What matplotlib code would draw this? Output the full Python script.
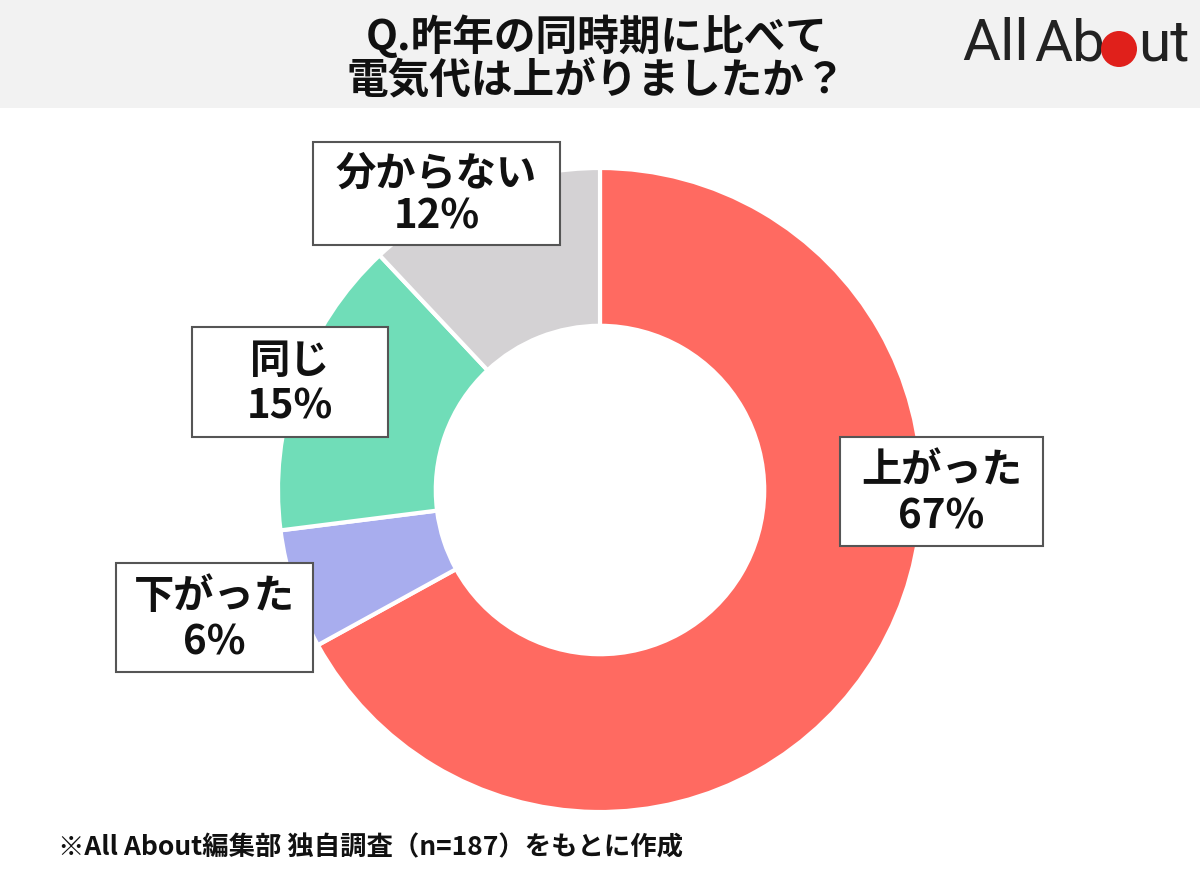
import matplotlib
matplotlib.use("Agg")
import matplotlib.pyplot as plt
from matplotlib.patches import Rectangle, Circle

plt.rcParams['font.family'] = ['Noto Sans CJK JP', 'DejaVu Sans']

title_lines = ["Q.昨年の同時期に比べて", "電気代は上がりましたか？"]
categories = ["上がった", "下がった", "同じ", "分からない"]
values = [67, 6, 15, 12]
colors = ["#FF6A61", "#A8ADEE", "#70DDB8", "#D4D2D4"]
footnote = "※All About編集部 独自調査（n=187）をもとに作成"

W, H = 1200, 884
fig = plt.figure(figsize=(W / 100, H / 100), dpi=100)
ax = fig.add_axes([0, 0, 1, 1])
ax.set_xlim(0, W)
ax.set_ylim(0, H)
ax.set_aspect('equal')
ax.axis('off')

def Y(y):
    return H - y

# header band
ax.add_patch(Rectangle((0, Y(108)), W, 108, facecolor="#F2F2F2", edgecolor="none", zorder=0))
ax.text(597, Y(37), title_lines[0], ha='center', va='center', fontsize=30, fontweight='bold', color='#111111')
ax.text(596, Y(80), title_lines[1], ha='center', va='center', fontsize=30, fontweight='bold', color='#111111')

# logo
logo_kw = dict(fontsize=42, color='#222222', va='center', family=['Roboto', 'DejaVu Sans'])
ax.text(962, Y(45), "All", ha='left', **logo_kw)
ax.text(1034, Y(45), "Ab", ha='left', **logo_kw)
ax.add_patch(Circle((1119, Y(49)), 18, facecolor="#E0201B", edgecolor='none', zorder=3))
ax.text(1138, Y(45), "ut", ha='left', **logo_kw)

# donut
cx, cy, R = 600, Y(490), 322
ax.pie(values, colors=colors, startangle=90, counterclock=False, center=(cx, cy), radius=R,
       wedgeprops=dict(width=R * 0.49, edgecolor='white', linewidth=3), frame=True)
ax.set_xlim(0, W)
ax.set_ylim(0, H)
ax.axis('off')

# label boxes (x0, y0, x1, y1) in pixels
boxes = {
    "上がった": (840, 437, 1043, 546),
    "下がった": (116, 563, 313, 672),
    "同じ": (192, 327, 388, 437),
    "分からない": (313, 142, 560, 245),
}
for cat, val in zip(categories, values):
    x0, y0, x1, y1 = boxes[cat]
    ax.add_patch(Rectangle((x0, Y(y1)), x1 - x0, y1 - y0, facecolor='white', edgecolor='#555555',
                           linewidth=1.5, zorder=5))
    xc = (x0 + x1) / 2
    h = y1 - y0
    ax.text(xc, Y(y0 + h * 0.31), cat, ha='center', va='center', fontsize=29, fontweight='bold',
            color='#111111', zorder=6)
    ax.text(xc, Y(y0 + h * 0.73), f"{val}%", ha='center', va='center', fontsize=29, fontweight='bold',
            color='#111111', zorder=6)

ax.text(58, Y(848), footnote, ha='left', va='center', fontsize=19, fontweight='bold', color='#111111')

fig.savefig("out.png", dpi=100, facecolor='white')
